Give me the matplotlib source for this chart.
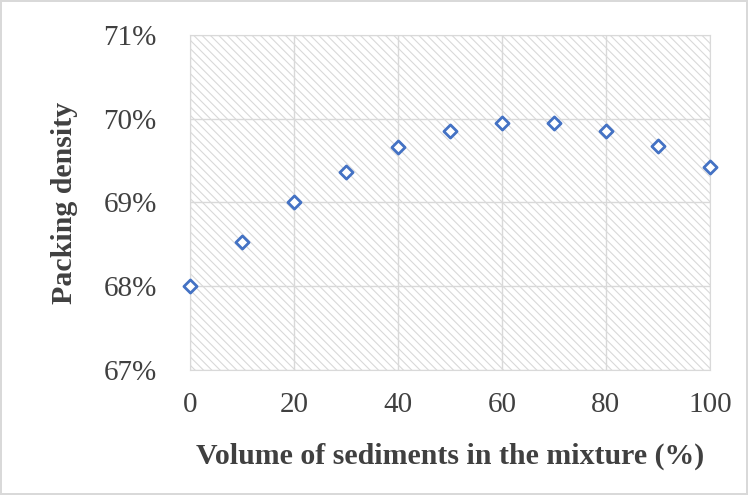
import matplotlib.pyplot as plt
import matplotlib as mpl
from matplotlib.patches import Rectangle
from matplotlib.ticker import FuncFormatter, MultipleLocator

mpl.rcParams['font.family'] = 'Liberation Serif'
mpl.rcParams['hatch.color'] = '#d9d9d9'
mpl.rcParams['hatch.linewidth'] = 0.8

volume = [0, 10, 20, 30, 40, 50, 60, 70, 80, 90, 100]
density = [68.0, 68.53, 69.0, 69.37, 69.66, 69.86, 69.95, 69.95, 69.85, 69.67, 69.42]

fig = plt.figure(figsize=(7.48, 4.95), dpi=100)
fig.patch.set_edgecolor('#d9d9d9')
fig.patch.set_linewidth(1.5)
ax = fig.add_axes([0.254, 0.253, 0.695, 0.676])
ax.add_patch(Rectangle((0, 0), 1, 1, transform=ax.transAxes, facecolor='white',
                       edgecolor='#d9d9d9', hatch='\\\\\\\\', linewidth=0, zorder=0))

ax.set_xlim(0, 100)
ax.set_ylim(67, 71)
ax.xaxis.set_major_locator(MultipleLocator(20))
ax.yaxis.set_major_locator(MultipleLocator(1))
ax.yaxis.set_major_formatter(FuncFormatter(lambda v, p: f'{v:.0f}%'))
ax.grid(True, color='#d9d9d9', linewidth=1, zorder=1)
ax.set_axisbelow(True)
for s in ax.spines.values():
    s.set_color('#d9d9d9')
ax.tick_params(length=0, labelsize=21, colors='#404040')
ax.tick_params(axis='x', pad=16)
ax.tick_params(axis='y', pad=24)

ax.scatter(volume, density, marker='D', s=45, facecolor='white',
           edgecolor='#4472c4', linewidth=2, zorder=3, clip_on=False)

ax.set_xlabel('Volume of sediments in the mixture (%)', fontsize=21.5,
              fontweight='bold', color='#404040', labelpad=18)
ax.set_ylabel('Packing density', fontsize=21.5, fontweight='bold',
              color='#404040', labelpad=18)

fig.savefig('out.png')
